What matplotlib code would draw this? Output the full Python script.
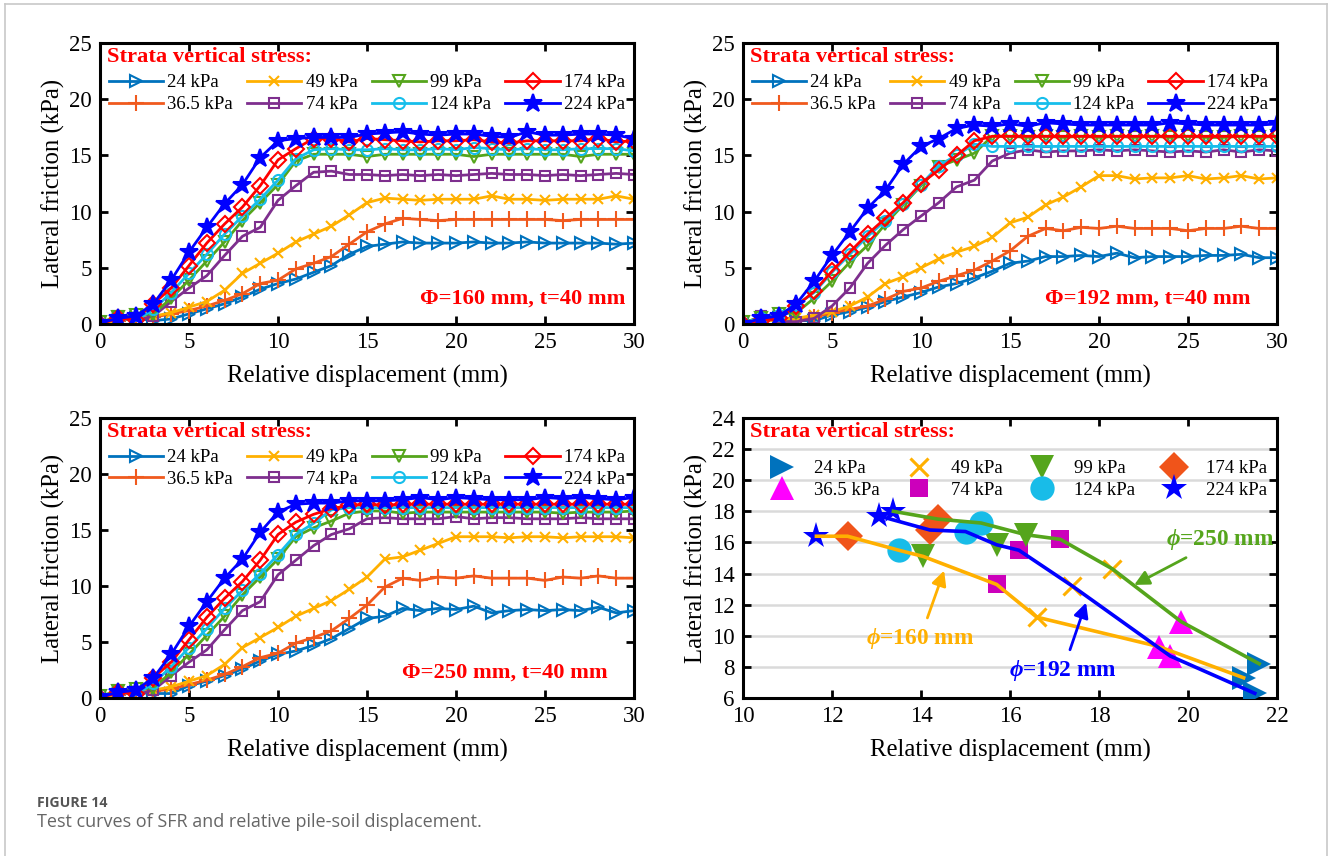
import matplotlib
matplotlib.use('Agg')
import matplotlib.pyplot as plt
from matplotlib.lines import Line2D

plt.rcParams['font.family'] = ['Liberation Serif', 'DejaVu Serif']
plt.rcParams['mathtext.fontset'] = 'custom'
plt.rcParams['mathtext.it'] = 'Liberation Serif:italic:bold'
plt.rcParams['mathtext.rm'] = 'Liberation Serif:bold'
plt.rcParams['mathtext.bf'] = 'Liberation Serif:bold'

# ---------------- data ----------------
disp = list(range(31))
stress_labels = ['24 kPa', '36.5 kPa', '49 kPa', '74 kPa', '99 kPa', '124 kPa', '174 kPa', '224 kPa']

# Phi = 160 mm
p160_24 = [0, 0.3, 0.5, 0.3, 0.45, 0.9, 1.35, 1.8, 2.4, 3.1, 3.6, 4.0, 4.6, 5.2, 6.2, 6.9, 7.1, 7.3, 7.2, 7.2, 7.2, 7.3, 7.2, 7.2, 7.3, 7.2, 7.2, 7.2, 7.2, 7.1, 7.2]
p160_36 = [0, 0.3, 0.5, 0.6, 0.9, 1.2, 1.6, 2.1, 2.7, 3.6, 3.9, 4.9, 5.4, 6.0, 7.1, 8.2, 8.9, 9.4, 9.3, 9.2, 9.3, 9.3, 9.3, 9.3, 9.3, 9.3, 9.2, 9.3, 9.3, 9.3, 9.3]
p160_49 = [0, 0.3, 0.5, 0.7, 1.0, 1.5, 2.0, 3.0, 4.5, 5.4, 6.3, 7.3, 8.0, 8.7, 9.7, 10.8, 11.2, 11.1, 11.0, 11.1, 11.1, 11.1, 11.4, 11.1, 11.1, 11.0, 11.1, 11.1, 11.1, 11.4, 11.1]
p160_74 = [0, 0.7, 0.3, 0.7, 2.0, 3.2, 4.3, 6.1, 7.8, 8.6, 11.0, 12.3, 13.5, 13.6, 13.3, 13.3, 13.2, 13.3, 13.2, 13.3, 13.2, 13.3, 13.4, 13.3, 13.3, 13.2, 13.3, 13.2, 13.3, 13.4, 13.3]
p160_99 = [0.2, 0.6, 0.8, 0.9, 2.3, 3.9, 5.6, 7.3, 9.2, 10.8, 12.4, 14.5, 15.1, 15.1, 15.1, 14.9, 15.1, 15.1, 15.1, 15.1, 15.1, 14.9, 15.1, 15.1, 15.1, 15.1, 15.1, 14.9, 15.1, 15.1, 15.1]
p160_124 = [0.1, 0.5, 0.3, 1.3, 2.8, 4.5, 6.2, 8.0, 9.6, 11.1, 12.8, 14.7, 15.5, 15.6, 15.5, 15.5, 15.6, 15.5, 15.5, 15.6, 15.5, 15.7, 15.6, 15.5, 15.6, 15.5, 15.5, 15.6, 15.6, 15.6, 15.4]
p160_174 = [0, 0.5, 0.4, 1.8, 3.2, 5.2, 7.2, 8.9, 10.4, 12.3, 14.6, 15.6, 16.5, 16.5, 16.2, 16.5, 16.4, 16.3, 16.2, 16.3, 16.3, 16.4, 16.2, 16.1, 16.3, 16.3, 16.3, 16.3, 16.5, 16.2, 16.3]
p160_224 = [0.1, 0.5, 0.7, 1.8, 3.9, 6.4, 8.6, 10.7, 12.4, 14.8, 16.3, 16.5, 16.6, 16.6, 16.6, 16.9, 17.0, 17.1, 16.9, 16.8, 16.9, 16.9, 16.7, 16.6, 17.1, 16.8, 16.8, 16.9, 16.9, 16.8, 16.5]

# Phi = 192 mm
p192_24 = [0, 0.3, 0.5, 0.3, 0.3, 0.8, 1.1, 1.5, 2.0, 2.4, 2.8, 3.3, 3.6, 4.1, 4.7, 5.4, 5.6, 6.0, 6.0, 6.1, 6.0, 6.3, 5.9, 6.0, 6.0, 6.0, 6.1, 6.1, 6.2, 5.9, 5.9]
p192_36 = [0, 0.3, 0.4, 0.5, 0.6, 1.0, 1.3, 1.6, 2.2, 2.9, 3.2, 3.8, 4.3, 4.8, 5.6, 6.5, 7.8, 8.5, 8.3, 8.6, 8.5, 8.7, 8.5, 8.5, 8.5, 8.3, 8.5, 8.5, 8.7, 8.5, 8.5]
p192_49 = [0, 0.2, 0.4, 0.5, 0.8, 1.1, 1.6, 2.4, 3.6, 4.2, 5.0, 5.8, 6.4, 6.9, 7.7, 9.0, 9.5, 10.6, 11.3, 12.2, 13.2, 13.2, 12.9, 13.0, 13.0, 13.2, 12.9, 13.0, 13.2, 12.9, 13.0]
p192_74 = [0, 0.7, 0.2, 0.2, 0.5, 1.6, 3.2, 5.4, 7.0, 8.4, 9.6, 10.8, 12.2, 12.8, 14.5, 15.2, 15.5, 15.3, 15.4, 15.4, 15.5, 15.4, 15.5, 15.4, 15.3, 15.4, 15.3, 15.5, 15.3, 15.5, 15.4]
p192_99 = [0.2, 0.5, 0.9, 1.0, 2.3, 3.8, 5.5, 7.0, 8.9, 10.6, 12.3, 14.0, 14.6, 15.2, 16.7, 16.7, 16.6, 16.7, 16.6, 16.7, 16.6, 16.7, 16.6, 16.7, 16.6, 16.7, 16.6, 16.6, 16.7, 16.6, 16.7]
p192_124 = [0.1, 0.5, 0.8, 1.7, 2.8, 4.6, 6.2, 7.8, 9.2, 10.7, 12.4, 14.1, 15.0, 16.0, 15.8, 15.8, 15.8, 15.8, 15.8, 15.8, 15.8, 15.8, 15.8, 15.8, 15.8, 15.8, 15.8, 15.8, 15.8, 15.8, 15.8]
p192_174 = [0, 0.3, 0.5, 1.6, 2.9, 4.7, 6.4, 8.0, 9.4, 10.8, 12.5, 13.7, 15.0, 16.3, 16.7, 16.7, 16.7, 16.7, 16.7, 16.7, 16.7, 16.7, 16.7, 16.7, 16.7, 16.7, 16.7, 16.7, 16.7, 16.7, 16.7]
p192_224 = [0, 0.5, 0.7, 1.8, 3.8, 6.1, 8.2, 10.3, 11.9, 14.2, 15.8, 16.5, 17.4, 17.7, 17.6, 17.8, 17.6, 17.9, 17.8, 17.7, 17.7, 17.7, 17.7, 17.7, 17.9, 17.8, 17.7, 17.7, 17.7, 17.7, 17.8]

# Phi = 250 mm
p250_24 = [0, 0.3, 0.5, 0.4, 0.4, 1.1, 1.5, 2.0, 2.6, 3.3, 3.9, 4.2, 4.7, 5.3, 6.2, 7.1, 7.3, 8.0, 7.8, 8.0, 7.9, 8.2, 7.6, 7.8, 7.9, 7.8, 7.9, 7.8, 8.1, 7.6, 7.8]
p250_36 = [0, 0.3, 0.5, 0.6, 0.8, 1.2, 1.6, 2.1, 2.8, 3.6, 4.0, 4.9, 5.4, 6.0, 7.1, 8.3, 9.9, 10.7, 10.5, 10.8, 10.7, 10.9, 10.7, 10.7, 10.7, 10.5, 10.8, 10.7, 10.9, 10.7, 10.7]
p250_49 = [0, 0.3, 0.5, 0.7, 1.0, 1.5, 2.0, 3.0, 4.5, 5.4, 6.3, 7.3, 8.0, 8.7, 9.7, 10.8, 12.4, 12.6, 13.2, 13.8, 14.4, 14.4, 14.4, 14.3, 14.4, 14.4, 14.3, 14.4, 14.4, 14.4, 14.3]
p250_74 = [0, 0.7, 0.3, 0.7, 2.0, 3.2, 4.3, 6.1, 7.8, 8.6, 11.0, 12.3, 13.6, 14.6, 15.1, 16.0, 16.1, 16.0, 16.0, 16.0, 16.2, 16.0, 16.1, 16.1, 16.0, 16.0, 16.0, 16.1, 16.0, 16.0, 16.0]
p250_99 = [0.2, 0.6, 0.8, 0.9, 2.3, 3.9, 5.6, 7.3, 9.2, 10.8, 12.4, 14.4, 15.2, 15.8, 16.5, 16.7, 16.7, 16.5, 16.6, 16.6, 16.6, 16.6, 16.6, 16.6, 16.6, 16.6, 16.5, 16.6, 16.6, 16.6, 16.7]
p250_124 = [0.1, 0.5, 0.3, 1.3, 2.8, 4.5, 6.2, 8.0, 9.6, 11.1, 12.8, 14.6, 15.6, 16.8, 17.0, 17.0, 17.0, 17.0, 17.0, 17.0, 17.0, 17.0, 17.0, 17.0, 17.0, 17.0, 17.0, 17.0, 17.0, 17.0, 17.0]
p250_174 = [0, 0.5, 0.4, 1.8, 3.2, 5.2, 7.2, 8.9, 10.4, 12.3, 14.6, 15.7, 16.4, 16.9, 17.2, 17.3, 17.2, 17.3, 17.3, 17.3, 17.3, 17.3, 17.3, 17.3, 17.3, 17.3, 17.3, 17.3, 17.3, 17.3, 17.3]
p250_224 = [0.1, 0.5, 0.7, 1.8, 3.9, 6.4, 8.6, 10.7, 12.4, 14.8, 16.6, 17.3, 17.4, 17.4, 17.6, 17.6, 17.6, 17.7, 17.9, 17.7, 17.9, 17.8, 17.7, 17.7, 17.7, 17.9, 17.8, 17.9, 17.8, 17.7, 17.9]

# Peak points (order: 24, 36.5, 49, 74, 99, 124, 174, 224 kPa)
peak_disp_160 = [21.25, 19.35, 16.6, 15.7, 14.05, 13.5, 12.35, 11.65]
peak_fric_160 = [7.3, 9.3, 11.2, 13.3, 15.1, 15.5, 16.4, 16.4]
peak_disp_192 = [21.5, 19.6, 17.4, 16.2, 15.7, 15.0, 14.2, 13.06]
peak_fric_192 = [6.3, 8.7, 13.2, 15.5, 15.85, 16.7, 16.8, 17.7]
peak_disp_250 = [21.6, 19.85, 18.3, 17.13, 16.35, 15.35, 14.38, 13.38]
peak_fric_250 = [8.2, 10.9, 14.3, 16.2, 16.5, 17.25, 17.5, 18.0]

panel_series = [
    [p160_24, p160_36, p160_49, p160_74, p160_99, p160_124, p160_174, p160_224],
    [p192_24, p192_36, p192_49, p192_74, p192_99, p192_124, p192_174, p192_224],
    [p250_24, p250_36, p250_49, p250_74, p250_99, p250_124, p250_174, p250_224],
]
panel_notes = ['\u03a6=160 mm, t=40 mm', '\u03a6=192 mm, t=40 mm', '\u03a6=250 mm, t=40 mm']

# ---------------- styles ----------------
line_colors = ['#0072BD', '#F05A1E', '#FFB000', '#7E2F8E', '#55A51C', '#16BEEB', '#FF0000', '#0000FF']
line_markers = ['>', '+', 'x', 's', 'v', 'o', 'D', '*']
line_mfc = ['none', None, None, 'none', 'none', 'none', 'none', '#0000FF']
line_ms = [8.5, 11, 7, 7.5, 9, 8, 8, 13.5]

pt_colors = ['#0072BD', '#FF00FF', '#FFB000', '#CC00BB', '#55A51C', '#18BCE8', '#F0541A', '#0000FF']
pt_markers = ['>', '^', 'x', 's', 'v', 'o', 'D', '*']
pt_ms = [17.5, 17.5, 13, 13, 17.5, 17.5, 15, 20]

W, H = 1328, 856
fig = plt.figure(figsize=(W / 100, H / 100), dpi=100)

rects = [
    (100 / W, 1 - 324 / H, 534 / W, 281 / H),
    (743 / W, 1 - 324 / H, 534 / W, 281 / H),
    (100 / W, 1 - 698 / H, 534 / W, 280 / H),
    (743 / W, 1 - 698 / H, 534 / W, 280 / H),
]
note_x = [0.984, 0.951, 0.951]

TICK_FS = 16.5
LABEL_FS = 17.8
LEG_FS = 13.5
TITLE_FS = 16.2


def style(ax):
    for sp in ax.spines.values():
        sp.set_linewidth(2.2)
    ax.tick_params(direction='in', top=True, right=True, length=6, width=2,
                   labelsize=TICK_FS, pad=6)
    ax.set_xlabel('Relative displacement (mm)', fontsize=LABEL_FS, labelpad=8.5)
    ax.set_ylabel('Lateral friction (kPa)', fontsize=LABEL_FS, labelpad=3)
    ax.text(0.013, 0.95, 'Strata vertical stress:', color='#FF0000', fontweight='bold',
            fontsize=TITLE_FS, va='center', ha='left', transform=ax.transAxes)


for k in range(3):
    ax = fig.add_axes(rects[k])
    handles = []
    for i, ys in enumerate(panel_series[k]):
        kw = dict(color=line_colors[i], marker=line_markers[i], markersize=line_ms[i],
                  markeredgewidth=1.5, linewidth=2.0, label=stress_labels[i])
        if line_mfc[i] is not None:
            kw['markerfacecolor'] = line_mfc[i]
        h, = ax.plot(disp, ys, **kw)
        handles.append(h)
    ax.set_xlim(0, 30)
    ax.set_ylim(0, 25)
    ax.set_xticks([0, 5, 10, 15, 20, 25, 30])
    ax.set_yticks([0, 5, 10, 15, 20, 25])
    style(ax)
    ax.legend(handles=handles, ncol=4, loc='upper left', bbox_to_anchor=(0.016, 0.889),
              frameon=False, fontsize=LEG_FS, handlelength=2.9, handletextpad=0.23,
              columnspacing=0.75, borderaxespad=0, borderpad=0, labelspacing=0.25)
    ax.text(note_x[k], 0.09, panel_notes[k], color='#FF0000', fontweight='bold',
            fontsize=16.2, ha='right', va='center', transform=ax.transAxes)

# ---------------- bottom-right panel ----------------
ax = fig.add_axes(rects[3])
ax.grid(axis='y', color='#DADADA', linewidth=1.8)
ax.set_axisbelow(True)
handles = []
for i in range(8):
    xs = [peak_disp_160[i], peak_disp_192[i], peak_disp_250[i]]
    ys = [peak_fric_160[i], peak_fric_192[i], peak_fric_250[i]]
    mew = 2.2 if pt_markers[i] == 'x' else 0
    h, = ax.plot(xs, ys, linestyle='none', marker=pt_markers[i], markersize=pt_ms[i],
                 color=pt_colors[i], markerfacecolor=pt_colors[i], markeredgewidth=mew,
                 label=stress_labels[i], zorder=3)
    handles.append(h)
ax.plot(peak_disp_160, peak_fric_160, color='#FFB000', linewidth=2.6, zorder=4)
ax.plot(peak_disp_192, peak_fric_192, color='#0000FF', linewidth=2.6, zorder=4)
ax.plot(peak_disp_250, peak_fric_250, color='#55A51C', linewidth=2.6, zorder=4)
ax.set_xlim(10, 22)
ax.set_ylim(6, 24)
ax.set_xticks(list(range(10, 23, 2)))
ax.set_yticks(list(range(6, 25, 2)))
style(ax)
ax.legend(handles=handles, ncol=4, loc='upper left', bbox_to_anchor=(0.0413, 0.85),
          frameon=False, fontsize=LEG_FS, handlelength=1.8, handletextpad=0.8,
          columnspacing=1.2, borderaxespad=0, borderpad=0, labelspacing=0.25)

ann = [
    (r'$\phi$=250 mm', '#55A51C', (20.72, 16.17), (18.79, 13.27)),
    (r'$\phi$=160 mm', '#FFB000', (13.98, 9.83), (14.52, 14.19)),
    (r'$\phi$=192 mm', '#0000FF', (17.19, 7.78), (17.71, 12.13)),
]
for txt, col, xyt, xy in ann:
    ax.annotate(txt, xy=xy, xytext=xyt, color=col, fontsize=16.8, fontweight='bold',
                ha='center', va='center', zorder=6,
                arrowprops=dict(arrowstyle='-|>', color=col, lw=2.0, mutation_scale=22,
                                shrinkA=4, shrinkB=0))

# ---------------- caption & frame ----------------
fig.text(37 / W, 1 - 803 / H, 'FIGURE 14', fontsize=10.2, fontweight='bold', color='#555555',
         family=['Open Sans', 'DejaVu Sans'], va='center', ha='left')
fig.text(37 / W, 1 - 822 / H, 'Test curves of SFR and relative pile-soil displacement.',
         fontsize=13, color='#666666', family=['Open Sans', 'DejaVu Sans'], va='center', ha='left')

frame_col = '#C8C8C8'
fig.add_artist(Line2D([4.5 / W, 4.5 / W], [0, 1 - 4 / H], color=frame_col, lw=1.2, transform=fig.transFigure))
fig.add_artist(Line2D([4.5 / W, 1326.5 / W], [1 - 4 / H, 1 - 4 / H], color=frame_col, lw=1.2, transform=fig.transFigure))
fig.add_artist(Line2D([1326.5 / W, 1326.5 / W], [0, 1 - 4 / H], color=frame_col, lw=1.2, transform=fig.transFigure))

fig.savefig('out.png', dpi=100)
